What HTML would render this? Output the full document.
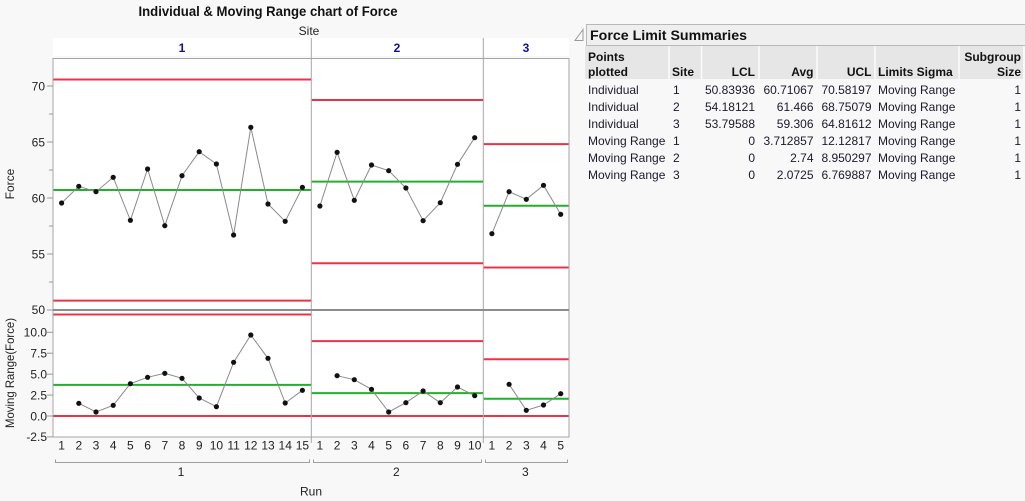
<!DOCTYPE html>
<html><head><meta charset="utf-8"><style>
html,body{margin:0;padding:0;background:#f8f8f8;}
svg{display:block;font-family:"Liberation Sans",sans-serif;}
</style></head><body>
<svg width="1025" height="501" viewBox="0 0 1025 501" xmlns="http://www.w3.org/2000/svg">
<rect x="0" y="0" width="1025" height="501" fill="#f8f8f8"/>
<!-- Title -->
<text x="268" y="16" font-size="14" font-weight="bold" text-anchor="middle" fill="#111" textLength="259" lengthAdjust="spacingAndGlyphs">Individual &amp; Moving Range chart of Force</text>
<text x="309" y="35" font-size="12" text-anchor="middle" fill="#222">Site</text>
<!-- header band -->
<rect x="53" y="38" width="516" height="18" fill="#fff"/>
<text x="182" y="52" font-size="12" font-weight="bold" text-anchor="middle" fill="#10108a">1</text>
<text x="397" y="52" font-size="12" font-weight="bold" text-anchor="middle" fill="#10108a">2</text>
<text x="526" y="52" font-size="12" font-weight="bold" text-anchor="middle" fill="#10108a">3</text>
<!-- plot area -->
<rect x="53" y="58.5" width="516" height="378.5" fill="#fff" stroke="#a6a6a6" stroke-width="1"/>
<line x1="311.3" y1="38" x2="311.3" y2="443" stroke="#a6a6a6" stroke-width="1"/>
<line x1="483.3" y1="38" x2="483.3" y2="443" stroke="#a6a6a6" stroke-width="1"/>
<line x1="53" y1="310" x2="569" y2="310" stroke="#8c8c8c" stroke-width="2"/>

<!-- Y axis ticks individual -->
<g stroke="#999" stroke-width="1">
<line x1="47" y1="86" x2="53" y2="86"/><line x1="47" y1="142" x2="53" y2="142"/><line x1="47" y1="198" x2="53" y2="198"/><line x1="47" y1="254" x2="53" y2="254"/><line x1="47" y1="310" x2="53" y2="310"/>
<line x1="49" y1="114" x2="53" y2="114"/><line x1="49" y1="170" x2="53" y2="170"/><line x1="49" y1="226" x2="53" y2="226"/><line x1="49" y1="282" x2="53" y2="282"/>
<line x1="47" y1="332.3" x2="53" y2="332.3"/><line x1="47" y1="353.2" x2="53" y2="353.2"/><line x1="47" y1="374.2" x2="53" y2="374.2"/><line x1="47" y1="395.1" x2="53" y2="395.1"/><line x1="47" y1="416" x2="53" y2="416"/><line x1="47" y1="436.9" x2="53" y2="436.9"/>
</g>
<g font-size="12" fill="#222" text-anchor="end">
<text x="45" y="90.5">70</text><text x="45" y="146.5">65</text><text x="45" y="202.5">60</text><text x="45" y="258.5">55</text><text x="45" y="314">50</text>
<text x="47" y="336.5">10.0</text><text x="47" y="357.5">7.5</text><text x="47" y="378.5">5.0</text><text x="47" y="399.5">2.5</text><text x="47" y="420.5">0.0</text><text x="47" y="441">-2.5</text>
</g>
<text transform="translate(14,184) rotate(-90)" font-size="12" text-anchor="middle" fill="#222">Force</text>
<text transform="translate(14,373) rotate(-90)" font-size="12" text-anchor="middle" fill="#222" textLength="110" lengthAdjust="spacingAndGlyphs">Moving Range(Force)</text>

<!-- control lines individual -->
<g stroke-width="2">
<line x1="53.5" y1="79.5" x2="311" y2="79.5" stroke="#e8344a"/>
<line x1="53.5" y1="300.6" x2="311" y2="300.6" stroke="#e8344a"/>
<line x1="53.5" y1="190" x2="311" y2="190" stroke="#22b02a"/>
<line x1="311.8" y1="100" x2="483" y2="100" stroke="#e8344a"/>
<line x1="311.8" y1="263.2" x2="483" y2="263.2" stroke="#e8344a"/>
<line x1="311.8" y1="181.6" x2="483" y2="181.6" stroke="#22b02a"/>
<line x1="483.8" y1="144.1" x2="568.5" y2="144.1" stroke="#e8344a"/>
<line x1="483.8" y1="267.5" x2="568.5" y2="267.5" stroke="#e8344a"/>
<line x1="483.8" y1="205.8" x2="568.5" y2="205.8" stroke="#22b02a"/>
<!-- MR -->
<line x1="53.5" y1="314.5" x2="311" y2="314.5" stroke="#e8344a"/>
<line x1="53.5" y1="416" x2="311" y2="416" stroke="#e8344a"/>
<line x1="53.5" y1="384.9" x2="311" y2="384.9" stroke="#22b02a"/>
<line x1="311.8" y1="341.1" x2="483" y2="341.1" stroke="#e8344a"/>
<line x1="311.8" y1="416" x2="483" y2="416" stroke="#e8344a"/>
<line x1="311.8" y1="393.1" x2="483" y2="393.1" stroke="#22b02a"/>
<line x1="483.8" y1="359.3" x2="568.5" y2="359.3" stroke="#e8344a"/>
<line x1="483.8" y1="416" x2="568.5" y2="416" stroke="#e8344a"/>
<line x1="483.8" y1="398.7" x2="568.5" y2="398.7" stroke="#22b02a"/>
</g>

<!-- series lines -->
<g fill="none" stroke="#8a8a8a" stroke-width="1">
<polyline points="61.6,203 78.8,186.3 96,191.7 113.2,177.3 130.4,220.3 147.6,169 164.8,225.7 182,175.7 199.2,151.7 216.4,164 233.6,235 250.8,127.3 268,204 285.2,221.3 302.4,187.3"/>
<polyline points="319.9,206 337.1,152.3 354.3,200.3 371.5,165 388.7,170.7 405.9,188 423.1,220.7 440.3,202.7 457.5,164.3 474.7,137.7"/>
<polyline points="491.9,233.7 509.1,191.7 526.3,199.3 543.5,185.3 560.7,214.3"/>
<polyline points="78.8,403.3 96,412 113.2,405.3 130.4,383.7 147.6,377.3 164.8,373.3 182,378.3 199.2,398 216.4,406.7 233.6,362.3 250.8,335 268,358.3 285.2,403 302.4,390.3"/>
<polyline points="337.1,375.7 354.3,379.7 371.5,389.3 388.7,412 405.9,402.7 423.1,391 440.3,402.7 457.5,387 474.7,395.7"/>
<polyline points="509.1,384.3 526.3,410.3 543.5,405 560.7,393.7"/>
</g>
<g fill="#111">
<circle cx="61.6" cy="203" r="2.6"/><circle cx="78.8" cy="186.3" r="2.6"/><circle cx="96" cy="191.7" r="2.6"/><circle cx="113.2" cy="177.3" r="2.6"/><circle cx="130.4" cy="220.3" r="2.6"/><circle cx="147.6" cy="169" r="2.6"/><circle cx="164.8" cy="225.7" r="2.6"/><circle cx="182" cy="175.7" r="2.6"/><circle cx="199.2" cy="151.7" r="2.6"/><circle cx="216.4" cy="164" r="2.6"/><circle cx="233.6" cy="235" r="2.6"/><circle cx="250.8" cy="127.3" r="2.6"/><circle cx="268" cy="204" r="2.6"/><circle cx="285.2" cy="221.3" r="2.6"/><circle cx="302.4" cy="187.3" r="2.6"/>
<circle cx="319.9" cy="206" r="2.6"/><circle cx="337.1" cy="152.3" r="2.6"/><circle cx="354.3" cy="200.3" r="2.6"/><circle cx="371.5" cy="165" r="2.6"/><circle cx="388.7" cy="170.7" r="2.6"/><circle cx="405.9" cy="188" r="2.6"/><circle cx="423.1" cy="220.7" r="2.6"/><circle cx="440.3" cy="202.7" r="2.6"/><circle cx="457.5" cy="164.3" r="2.6"/><circle cx="474.7" cy="137.7" r="2.6"/>
<circle cx="491.9" cy="233.7" r="2.6"/><circle cx="509.1" cy="191.7" r="2.6"/><circle cx="526.3" cy="199.3" r="2.6"/><circle cx="543.5" cy="185.3" r="2.6"/><circle cx="560.7" cy="214.3" r="2.6"/>
<circle cx="78.8" cy="403.3" r="2.6"/><circle cx="96" cy="412" r="2.6"/><circle cx="113.2" cy="405.3" r="2.6"/><circle cx="130.4" cy="383.7" r="2.6"/><circle cx="147.6" cy="377.3" r="2.6"/><circle cx="164.8" cy="373.3" r="2.6"/><circle cx="182" cy="378.3" r="2.6"/><circle cx="199.2" cy="398" r="2.6"/><circle cx="216.4" cy="406.7" r="2.6"/><circle cx="233.6" cy="362.3" r="2.6"/><circle cx="250.8" cy="335" r="2.6"/><circle cx="268" cy="358.3" r="2.6"/><circle cx="285.2" cy="403" r="2.6"/><circle cx="302.4" cy="390.3" r="2.6"/>
<circle cx="337.1" cy="375.7" r="2.6"/><circle cx="354.3" cy="379.7" r="2.6"/><circle cx="371.5" cy="389.3" r="2.6"/><circle cx="388.7" cy="412" r="2.6"/><circle cx="405.9" cy="402.7" r="2.6"/><circle cx="423.1" cy="391" r="2.6"/><circle cx="440.3" cy="402.7" r="2.6"/><circle cx="457.5" cy="387" r="2.6"/><circle cx="474.7" cy="395.7" r="2.6"/>
<circle cx="509.1" cy="384.3" r="2.6"/><circle cx="526.3" cy="410.3" r="2.6"/><circle cx="543.5" cy="405" r="2.6"/><circle cx="560.7" cy="393.7" r="2.6"/>
</g>

<!-- X axis labels -->
<g font-size="12" fill="#222" text-anchor="middle">
<text x="61.6" y="449.5">1</text><text x="78.8" y="449.5">2</text><text x="96" y="449.5">3</text><text x="113.2" y="449.5">4</text><text x="130.4" y="449.5">5</text><text x="147.6" y="449.5">6</text><text x="164.8" y="449.5">7</text><text x="182" y="449.5">8</text><text x="199.2" y="449.5">9</text><text x="216.4" y="449.5">10</text><text x="233.6" y="449.5">11</text><text x="250.8" y="449.5">12</text><text x="268" y="449.5">13</text><text x="285.2" y="449.5">14</text><text x="302.4" y="449.5">15</text>
<text x="319.9" y="449.5">1</text><text x="337.1" y="449.5">2</text><text x="354.3" y="449.5">3</text><text x="371.5" y="449.5">4</text><text x="388.7" y="449.5">5</text><text x="405.9" y="449.5">6</text><text x="423.1" y="449.5">7</text><text x="440.3" y="449.5">8</text><text x="457.5" y="449.5">9</text><text x="474.7" y="449.5">10</text>
<text x="491.9" y="449.5">1</text><text x="509.1" y="449.5">2</text><text x="526.3" y="449.5">3</text><text x="543.5" y="449.5">4</text><text x="560.7" y="449.5">5</text>
<text x="181" y="476">1</text><text x="396.3" y="476">2</text><text x="525.3" y="476">3</text>
<text x="311" y="495.5">Run</text>
</g>
<g fill="none" stroke="#a0a0a0" stroke-width="1">
<polyline points="55.5,459.5 55.5,462.5 309.5,462.5 309.5,459.5"/>
<polyline points="313.5,459.5 313.5,462.5 481.5,462.5 481.5,459.5"/>
<polyline points="485.5,459.5 485.5,462.5 567.5,462.5 567.5,459.5"/>
</g>

<!-- Table -->
<polygon points="583,29.5 583,40.5 575,40.5" fill="#f8f8f8" stroke="#999" stroke-width="1"/>
<rect x="586.5" y="24.5" width="445" height="21" fill="#efefef" stroke="#b8b8b8" stroke-width="1"/>
<text x="590" y="40" font-size="14" font-weight="bold" fill="#111" textLength="157" lengthAdjust="spacingAndGlyphs">Force Limit Summaries</text>
<rect x="585" y="46" width="438" height="33" fill="#e6e6e6"/>
<g stroke="#fbfbfb" stroke-width="1.5">
<line x1="669" y1="46" x2="669" y2="79"/><line x1="701.5" y1="46" x2="701.5" y2="79"/><line x1="759" y1="46" x2="759" y2="79"/><line x1="817" y1="46" x2="817" y2="79"/><line x1="875" y1="46" x2="875" y2="79"/><line x1="959" y1="46" x2="959" y2="79"/>
</g>
<g font-size="12" font-weight="bold" fill="#111">
<text x="588" y="61">Points</text><text x="588" y="76">plotted</text>
<text x="672" y="76">Site</text>
<text x="755" y="76" text-anchor="end">LCL</text>
<text x="813.5" y="76" text-anchor="end">Avg</text>
<text x="871.5" y="76" text-anchor="end">UCL</text>
<text x="878" y="76">Limits Sigma</text>
<text x="1021" y="61" text-anchor="end">Subgroup</text>
<text x="1021" y="76" text-anchor="end">Size</text>
</g>
<g font-size="12" fill="#1a1a2a">
<text x="588" y="94">Individual</text><text x="588" y="111">Individual</text><text x="588" y="128">Individual</text>
<text x="588" y="145">Moving Range</text><text x="588" y="162">Moving Range</text><text x="588" y="179">Moving Range</text>
<text x="673" y="94">1</text><text x="673" y="111">2</text><text x="673" y="128">3</text><text x="673" y="145">1</text><text x="673" y="162">2</text><text x="673" y="179">3</text>
<g text-anchor="end">
<text x="755" y="94">50.83936</text><text x="755" y="111">54.18121</text><text x="755" y="128">53.79588</text><text x="755" y="145">0</text><text x="755" y="162">0</text><text x="755" y="179">0</text>
<text x="813.5" y="94">60.71067</text><text x="813.5" y="111">61.466</text><text x="813.5" y="128">59.306</text><text x="813.5" y="145">3.712857</text><text x="813.5" y="162">2.74</text><text x="813.5" y="179">2.0725</text>
<text x="871.5" y="94">70.58197</text><text x="871.5" y="111">68.75079</text><text x="871.5" y="128">64.81612</text><text x="871.5" y="145">12.12817</text><text x="871.5" y="162">8.950297</text><text x="871.5" y="179">6.769887</text>
<text x="1021" y="94">1</text><text x="1021" y="111">1</text><text x="1021" y="128">1</text><text x="1021" y="145">1</text><text x="1021" y="162">1</text><text x="1021" y="179">1</text>
</g>
<text x="878" y="94">Moving Range</text><text x="878" y="111">Moving Range</text><text x="878" y="128">Moving Range</text><text x="878" y="145">Moving Range</text><text x="878" y="162">Moving Range</text><text x="878" y="179">Moving Range</text>
</g>
</svg>
</body></html>
